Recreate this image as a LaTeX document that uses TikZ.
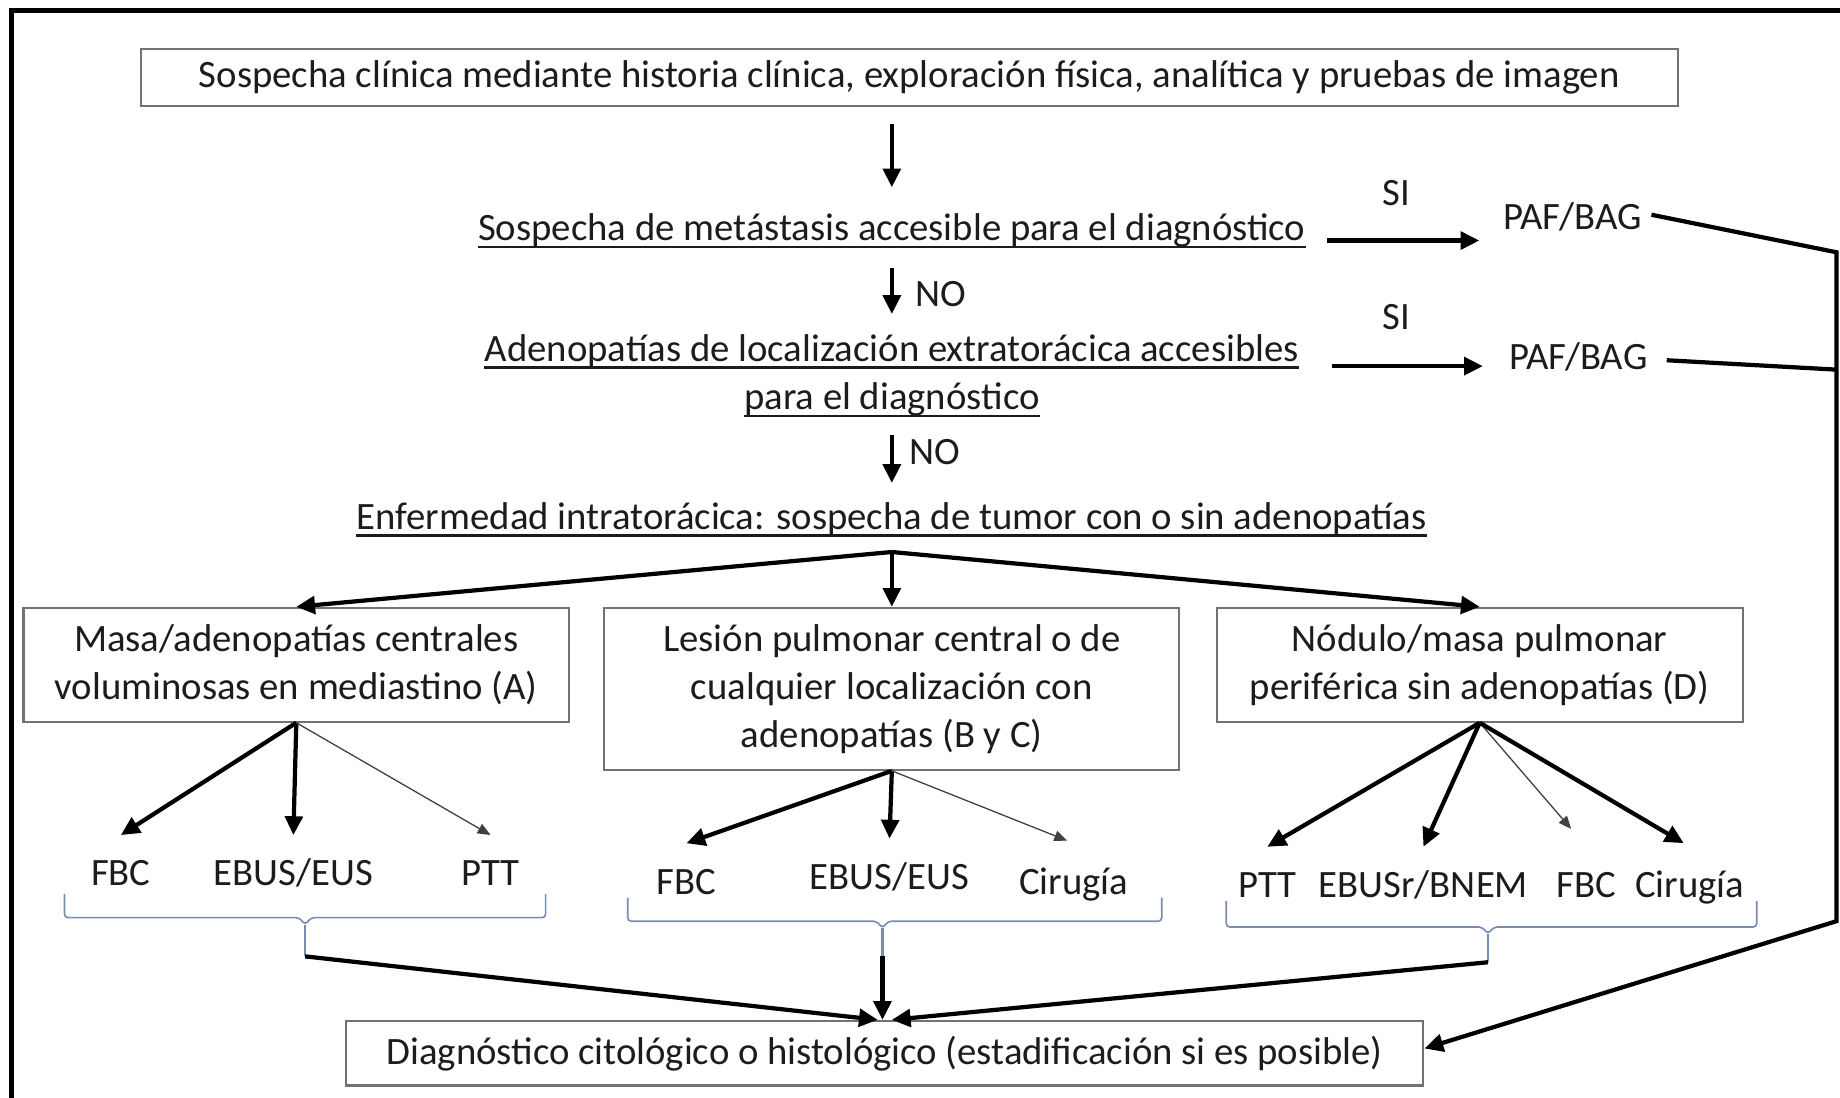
\documentclass[tikz,border=0pt]{standalone}
\usepackage{fontspec}
\setmainfont{Carlito}
\usetikzlibrary{arrows.meta}

\definecolor{boxgray}{RGB}{115,115,115}
\definecolor{bracecol}{RGB}{120,140,178}
\definecolor{txt}{RGB}{28,28,28}

\begin{document}
\begin{tikzpicture}[
  x=0.5pt, y=-0.5pt,
  font=\fontsize{16.5}{20.5}\selectfont,
  box/.style={draw=boxgray, line width=0.9pt, fill=white, inner sep=0pt, align=center, text=txt},
  plain/.style={inner sep=0pt, text=txt, text height=12pt, text depth=4pt},
  lab/.style={inner sep=0pt, text=txt, text height=12pt, text depth=4pt, minimum height=35pt},
  arr/.style={line width=1.8pt, line join=miter, -{Triangle[length=8pt,width=7.5pt]}},
  thinarr/.style={line width=0.55pt, draw=black!75, -{Triangle[length=5.5pt,width=4.5pt]}},
  link/.style={line width=1.8pt},
  uline/.style={line width=1.1pt, draw=txt},
  brace/.style={draw=bracecol, line width=0.7pt, rounded corners=1.5pt},
  bracestem/.style={draw=bracecol, line width=1.1pt},
  frameline/.style={line width=2pt, line cap=rect}
]
\useasboundingbox (0,0) rectangle (1568,935);

% page frame (left and top edges)
\draw[frameline] (10,940) -- (10,9) -- (1575,9);

% ---- main decision column ----
\node[box, minimum width=655pt, minimum height=24pt] (top) at (775,66)
  {Sospecha clínica mediante historia clínica, exploración física, analítica y pruebas de imagen};
\node[plain] (met) at (760,197) {Sospecha de metástasis accesible para el diagnóstico};
\node[plain] (ade1) at (760,300) {Adenopatías de localización extratorácica accesibles};
\node[plain] (ade2) at (760,341) {para el diagnóstico};
\node[plain] (enf) at (760,443) {Enfermedad intratorácica: sospecha de tumor con o sin adenopatías};
\foreach \n in {met,ade1,ade2,enf}
  \draw[uline] ([yshift=1.5pt]\n.south west) -- ([yshift=1.5pt]\n.south east);

\node[plain] (no1) at (802,253) {NO};
\node[plain] (no2) at (797,388) {NO};

\node[plain] (si1) at (1190,167) {SI};
\node[plain] (si2) at (1190,273) {SI};
\node[plain] (paf1) at (1340,188) {PAF/BAG};
\node[plain] (paf2) at (1345,307) {PAF/BAG};

\draw[arr, shorten <=7.5pt, shorten >=10.5pt] (top.south -| met.north) -- (met.north);
\draw[arr, shorten <=7.5pt, shorten >=8pt] (met.south) -- (ade1.north);
\draw[arr, shorten <=6.5pt, shorten >=7.5pt] (ade2.south) -- (enf.north);

\draw[arr] ([xshift=9pt,yshift=-4pt]met.east) -- ([xshift=-10pt,yshift=-8.5pt]paf1.west);
\draw[arr] ([xshift=14pt,yshift=-6pt]ade1.east) -- ([xshift=-11pt,yshift=-2.5pt]paf2.west);

% ---- three branches ----
\node[box, minimum width=232.5pt, minimum height=48.5pt] (A) at (252.5,566.5)
  {Masa/adenopatías centrales\\voluminosas en mediastino (A)};
\node[box, minimum width=245pt, minimum height=69pt] (B) at (760,587)
  {Lesión pulmonar central o de\\cualquier localización con\\adenopatías (B y C)};
\node[box, minimum width=224pt, minimum height=48.5pt] (D) at (1261,566.5)
  {Nódulo/masa pulmonar\\periférica sin adenopatías (D)};

\coordinate (fan) at ([yshift=-5.5pt]enf.south);
\draw[arr] (fan) -- (A.north);
\draw[arr] (fan) -- (B.north);
\draw[arr] (fan) -- (D.north);

% techniques
\node[lab] (fbcA)  at (103,747) {FBC};
\node[lab] (ebusA) at (250,747) {EBUS/EUS};
\node[lab] (pttA)  at (418,747) {PTT};

\node[lab] (fbcB)  at (585,754) {FBC};
\node[lab] (ebusB) at (758,750) {EBUS/EUS};
\node[lab] (cirB)  at (915,754) {Cirugía};

\node[lab] (pttD)  at (1080,757) {PTT};
\node[lab] (ebusD) at (1213,757) {EBUSr/BNEM};
\node[lab] (fbcD)  at (1352,757) {FBC};
\node[lab] (cirD)  at (1440,757) {Cirugía};

\draw[arr] (A.south) -- (fbcA.north);
\draw[arr] (A.south) -- (ebusA.north);
\draw[thinarr] (A.south) -- (pttA.north);

\draw[arr] (B.south) -- (fbcB.north);
\draw[arr] (B.south) -- (ebusB.north);
\draw[thinarr, shorten >=3pt] (B.south) -- (cirB.north);

\draw[arr] (D.south) -- (pttD.north);
\draw[arr] (D.south) -- (ebusD.north);
\draw[thinarr, shorten >=10pt] (D.south) -- (fbcD.north);
\draw[arr, shorten >=3pt] (D.south) -- (cirD.north);

% grouping brackets
\coordinate (bA) at (260,815);
\coordinate (bB) at (752,815);
\coordinate (bD) at (1268,820);

\draw[brace] (55,762) -- (55,782) -- (255,782) -- (260,788) -- (265,782) -- (465,782) -- (465,762);
\draw[bracestem] (260,788) -- (bA);
\draw[brace] (535,765) -- (535,785) -- (747,785) -- (752,791) -- (757,785) -- (990,785) -- (990,765);
\draw[bracestem] (752,791) -- (bB);
\draw[brace] (1045,768) -- (1045,790) -- (1263,790) -- (1268,796) -- (1273,790) -- (1497,790) -- (1497,768);
\draw[bracestem] (1268,796) -- (bD);

% ---- result ----
\node[box, minimum width=459pt, minimum height=27.5pt] (dx) at (754,897.5)
  {Diagnóstico citológico o histológico (estadificación si es posible)};

\draw[arr] (bA) -- ([xshift=-3pt]dx.north);
\draw[arr] (bB) -- ([xshift=-1pt]dx.north);
\draw[arr] (bD) -- ([xshift=3pt]dx.north);

% direct route from the PAF/BAG results
\coordinate (r1) at (1565,215);
\coordinate (r2) at (1565,315);
\coordinate (r3) at (1565,785);
\draw[arr] ([xshift=4pt,yshift=2.5pt]paf1.east) -- (r1) -- (r3) -- ([yshift=2pt]dx.east);
\draw[link] ([xshift=8pt]paf2.east) -- (r2);
\end{tikzpicture}
\end{document}
